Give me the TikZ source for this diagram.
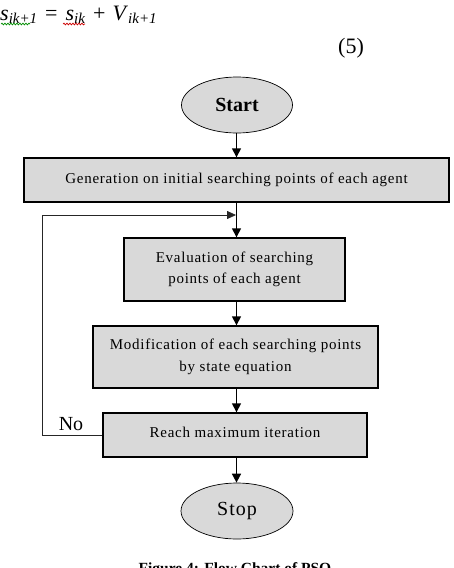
\documentclass[tikz,border=0pt]{standalone}
\usepackage{fontspec}
\setmainfont{Liberation Serif}
\newfontfamily\boxfont[LetterSpace=5]{Liberation Serif}
\usetikzlibrary{shapes.geometric,arrows.meta,decorations.pathmorphing}
\begin{document}
\begin{tikzpicture}[x=1pt,y=-1pt,
  term/.style={ellipse,draw=black,line width=0.7pt,fill=black!15,inner sep=0pt},
  stepbox/.style={rectangle,draw=black,line width=1.4pt,fill=black!15,inner sep=0pt,align=center,font=\boxfont\fontsize{15}{21.5}\selectfont},
  flow/.style={line width=1.5pt,-{Triangle[length=9pt,width=9pt]}},
  fbline/.style={line width=0.8pt,black!85,-{Triangle[length=9pt,width=8pt]}}]
\useasboundingbox (0,0) rectangle (454,568);
% equation
\node[anchor=west,inner sep=0pt,font=\fontsize{22}{24}\selectfont] (eq) at (0,15)
  {\textit{s}\raisebox{-3pt}{\fontsize{15}{16}\selectfont\textit{ik+1}}\hspace{8pt}=\hspace{8pt}\textit{s}\raisebox{-3pt}{\fontsize{15}{16}\selectfont\textit{ik}}\hspace{8pt}+\hspace{7pt}\textit{V}\raisebox{-3pt}{\fontsize{15}{16}\selectfont\textit{ik+1}}};
\draw[green!55!black,line width=0.7pt,decorate,decoration={snake,amplitude=0.9pt,segment length=3pt}] (1,24) -- (30,24);
\draw[red!80!black,line width=0.7pt,decorate,decoration={snake,amplitude=0.9pt,segment length=3pt}] (63,24) -- (85,24);
\node[font=\fontsize{22}{24}\selectfont,inner sep=0pt] (num) at (351,48) {(5)};
% nodes
\node[term,minimum width=111pt,minimum height=56pt,font=\bfseries\fontsize{20}{22}\selectfont] (start) at (237,105) {\raisebox{-9pt}{Start}};
\node[stepbox,minimum width=425pt,minimum height=44pt] (b1) at (236.5,180) {Generation on initial searching points of each agent};
\node[stepbox,minimum width=221pt,minimum height=63pt] (b2) at (234.5,269.5) {Evaluation of searching\\points of each agent};
\node[stepbox,minimum width=285pt,minimum height=62pt] (b3) at (235.5,357) {Modification of each searching points\\by state equation};
\node[stepbox,minimum width=264pt,minimum height=44pt] (b4) at (235,435) {\raisebox{6pt}{Reach maximum iteration}};
\node[term,minimum width=112pt,minimum height=56pt,font=\boxfont\fontsize{20}{22}\selectfont] (stop) at (237,511) {\raisebox{1pt}{Stop}};
\node[font=\fontsize{20}{22}\selectfont,inner sep=0pt] (no) at (71,424) {No};
% connectors
\draw[flow] (start.south -| 236.5,0) -- (b1.north -| 236.5,0);
\draw[flow] (b1.south -| 236.5,0) -- (b2.north -| 236.5,0);
\draw[flow] (b2.south -| 236.5,0) -- (b3.north -| 236.5,0);
\draw[flow] (b3.south -| 236.5,0) -- (b4.north -| 236.5,0);
\draw[flow] (b4.south -| 236.5,0) -- (stop.north -| 236.5,0);
\coordinate (fb) at (42,215);
\coordinate (join) at (236,215);
\draw[fbline] (b4.west) -| (fb) -- (join);
% caption
\node[font=\bfseries\fontsize{15.5}{17}\selectfont,anchor=base] (cap) at (235,573) {Figure 4: Flow Chart of PSO};
\end{tikzpicture}
\end{document}
